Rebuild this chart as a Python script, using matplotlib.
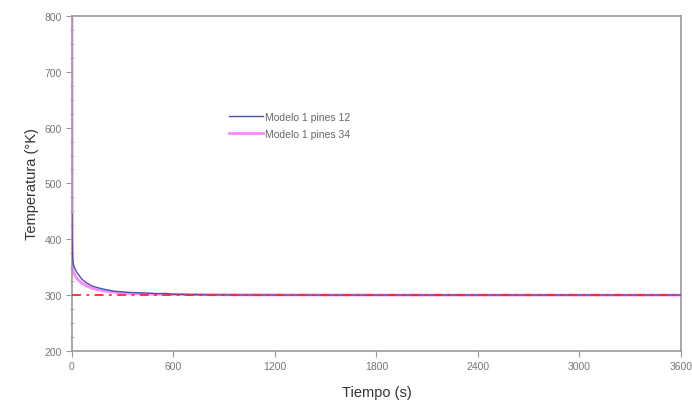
import matplotlib.pyplot as plt
import numpy as np

plt.rcParams['font.family'] = ['Liberation Sans', 'DejaVu Sans']

# Tiempo (s) y temperatura (K)
t_12 = [0, 1, 3, 8, 15, 30, 60, 90, 120, 180, 250, 320, 400, 450, 500, 550, 600, 700, 800, 1000, 1500, 2400, 3600]
T_12 = [445, 400, 370, 355, 349, 340, 328, 321, 316, 311, 307, 305, 304, 303.5, 302.5, 303, 301.5, 301, 300.5, 300.2, 300, 300, 300]

t_34 = [0, 1, 2, 5, 10, 20, 40, 60, 90, 120, 180, 250, 350, 500, 700, 1000, 1500, 2400, 3600]
T_34 = [800, 500, 400, 345, 340, 334, 326, 321, 316, 312, 308, 305, 303, 301.5, 300.8, 300.3, 300.1, 300, 300]

t_amb = [0, 3600]
T_amb = [300, 300]

fig = plt.figure(figsize=(6.92, 4.14), dpi=100)
ax = fig.add_axes([0.104, 0.150, 0.880, 0.809])

ax.plot(t_34, T_34, color="#ff88ff", linewidth=2.0, label="Modelo 1 pines 34", zorder=2)
ax.plot(t_12, T_12, color="#5050b0", linewidth=1.0, label="Modelo 1 pines 12", zorder=3)
ax.plot(t_amb, T_amb, color="#ff2a2a", linewidth=1.3, linestyle=(0, (5, 3, 1.5, 3)), zorder=4)

ax.set_xlim(0, 3600)
ax.set_ylim(200, 800)
ax.set_xticks(np.arange(0, 3601, 600))
ax.set_yticks(np.arange(200, 801, 100))
ax.set_yticks(np.arange(200, 801, 25), minor=True)

for s in ax.spines.values():
    s.set_color("#999999")
    s.set_linewidth(1.2)
ax.tick_params(axis="both", colors="#999999", labelcolor="#777777", labelsize=7.5, length=4)
ax.tick_params(axis="y", which="minor", colors="#999999", length=3, direction="inout")

ax.set_xlabel("Tiempo (s)", fontsize=10.5, color="#333333", labelpad=10)
ax.set_ylabel("Temperatura (°K)", fontsize=10.5, color="#333333", labelpad=4)

h, l = ax.get_legend_handles_labels()
ax.legend(h[::-1], l[::-1], loc="upper left", bbox_to_anchor=(0.25, 0.73), frameon=False,
          fontsize=7.5, labelcolor="#666666", handlelength=3.2, handletextpad=0.2,
          borderpad=0, labelspacing=0.7)

fig.savefig("out.png", dpi=100)
